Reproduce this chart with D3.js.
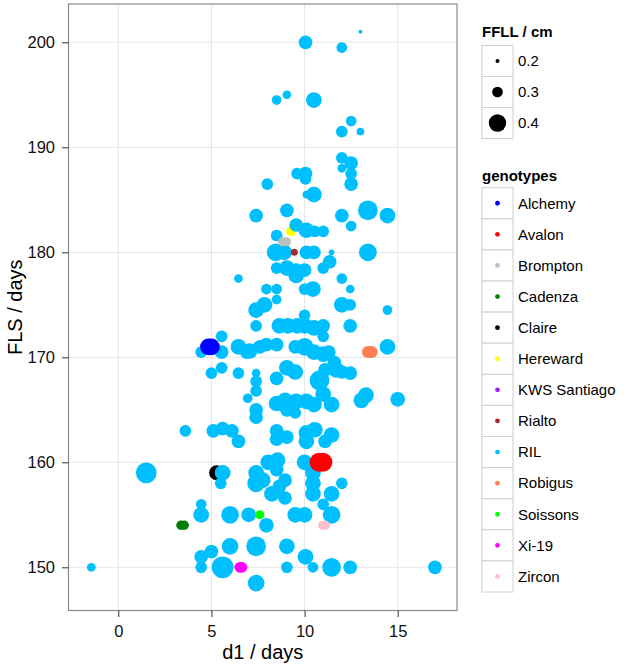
<!DOCTYPE html>
<html><head><meta charset="utf-8">
<script src="https://cdn.jsdelivr.net/npm/d3@7"></script>
<style>
body{margin:0;background:#fff}
svg{display:block}
text{font-family:"Liberation Sans",Arial,sans-serif}
</style>
</head><body><svg id="chart" width="638" height="669"></svg>
<script>
// ---------- data ----------
const genotypes = ["Alchemy","Avalon","Brompton","Cadenza","Claire","Hereward","KWS Santiago","Rialto","RIL","Robigus","Soissons","Xi-19","Zircon"];
const genotypeColors = ["#0000FF","#FF0000","#BEBEBE","#008000","#000000","#FFFF00","#A020F0","#A52A2A","#00BFFF","#FF7F50","#00FF00","#FF00FF","#FFC0CB"];
const sizeBreaks = [0.2, 0.3, 0.4];
const xTicks = [0, 5, 10, 15];
const yTicks = [150, 160, 170, 180, 190, 200];

// RIL lines
const rilD1 = [13.0,10.05,12.0,8.5,9.05,10.5,12.5,12.0,13.0,12.0,12.5,12.0,12.5,12.5,8.0,9.6,10.05,10.05,10.5,10.1,
 7.4,9.05,13.4,14.45,12.0,12.5,9.55,10.1,10.55,11.0,8.5,8.45,8.9,10.1,10.5,11.45,13.4,11.35,11.0,8.5,
 9.05,9.55,10.0,9.55,6.45,12.0,12.45,10.45,10.0,7.95,8.5,8.5,7.4,7.85,12.0,12.45,14.45,7.4,8.65,9.1,
 9.6,10.0,10.0,10.5,11.0,12.45,11.0,14.45,6.45,7.05,7.6,7.95,8.5,9.5,10.0,10.5,11.0,11.3,4.45,5.55,
 5.55,6.9,5.0,5.55,6.45,7.4,7.4,7.4,6.95,7.4,7.4,8.5,9.05,9.5,8.5,8.95,9.55,10.1,10.5,9.05,
 9.5,11.45,10.8,11.1,11.7,12.45,13.05,13.3,15.0,8.5,8.5,9.05,10.1,10.55,10.1,11.45,11.1,3.6,5.1,5.6,
 6.1,6.45,5.6,5.5,1.5,10.0,8.05,8.55,7.4,7.75,7.4,8.5,8.95,8.65,8.25,8.95,10.45,10.45,10.45,11.45,
 12.0,11.0,11.45,9.5,10.0,7.95,7.0,4.45,4.45,6.0,4.45,5.0,6.0,7.4,9.05,10.05,10.45,4.45,5.6,9.05,
 11.45,12.45,17.0,7.4,-1.45,12.0,11.6,11.0];
const rilFLS = [201,200,199.5,194.5,195,194.5,192.5,191.5,191.5,189,188.5,188,187.5,186.5,186.5,187.5,187.5,187,185.5,185.5,
 183.5,184,184,183.5,183.5,182.5,182.6,182.1,182,182,181.6,180,180,180,180,180,180,179.1,178.5,178.5,
 178.5,178.2,178.3,177.8,177.5,177.5,176.5,176.5,176.5,176.5,176.5,175.5,174.5,175,175,175,174.5,173,173,173,
 173,174,173,172.8,173,173,172,171,171,170.6,171,171.2,171.2,171,171,170.5,170.3,170.5,170.5,172,
 170.5,170.5,168.5,169,168.5,168.5,167.7,166.8,166.1,165,164.3,168,169,168.6,165.6,165.9,165.8,165.8,165.5,165,
 164.7,165.5,167.8,168.8,168.8,168.5,165.9,166.4,166,163,162.2,162.4,162.8,163.1,162,162.6,162,163,163,163.2,
 163,162,159,158,159,160,160,160.2,159,158.3,158,159.3,158.3,157.7,157,156.6,159,158,157,157,
 158,156,155,155,155,154,155,156,155,155,151,151.5,152,152,152,151,150,150,150,150,
 150,150,150,148.5,150,168.6,169.5,166.5];
const rilFFLL = [0.2,0.345,0.3,0.285,0.27,0.375,0.3,0.315,0.255,0.315,0.345,0.27,0.315,0.345,0.315,0.315,0.345,0.315,0.375,0.255,
 0.345,0.345,0.435,0.375,0.345,0.3,0.345,0.375,0.315,0.315,0.315,0.405,0.375,0.345,0.345,0.225,0.405,0.345,0.315,0.315,
 0.375,0.375,0.345,0.375,0.27,0.3,0.27,0.375,0.315,0.3,0.3,0.285,0.375,0.375,0.375,0.315,0.285,0.315,0.375,0.375,
 0.375,0.315,0.375,0.375,0.345,0.345,0.315,0.375,0.375,0.375,0.345,0.345,0.345,0.345,0.405,0.375,0.375,0.345,0.315,0.315,
 0.345,0.345,0.315,0.315,0.315,0.27,0.315,0.315,0.285,0.345,0.345,0.345,0.375,0.375,0.375,0.375,0.375,0.375,0.375,0.345,
 0.315,0.375,0.435,0.345,0.375,0.345,0.375,0.375,0.36,0.345,0.345,0.345,0.375,0.375,0.375,0.375,0.345,0.315,0.345,0.345,
 0.345,0.345,0.375,0.315,0.45,0.375,0.375,0.375,0.375,0.375,0.405,0.345,0.345,0.345,0.375,0.345,0.375,0.375,0.375,0.375,
 0.315,0.315,0.405,0.375,0.375,0.36,0.36,0.3,0.375,0.405,0.345,0.345,0.39,0.435,0.375,0.375,0.3,0.315,0.465,0.315,
 0.42,0.345,0.345,0.39,0.27,0.345,0.345,0.375];

// named parent varieties (first three are drawn beneath the RIL points)
const parentGenotype = ["Claire","Hereward","KWS Santiago",
 "Alchemy","Alchemy","Avalon","Avalon","Brompton","Brompton","Cadenza","Cadenza","Rialto",
 "Robigus","Robigus","Soissons","Xi-19","Xi-19","Zircon","Zircon"];
const parentD1 = [5.28,9.28,9.65, 4.84,5.0,10.78,10.98,8.82,9.03,3.36,3.54,9.45, 13.4,13.6,7.6,6.52,6.64,10.97,11.13];
const parentFLS = [159,182,171, 171,171,160,160,181,181,154,154,180, 170.5,170.5,155,150,150,154,154];
const parentFFLL = [0.365,0.29,0.25, 0.39,0.39,0.424,0.424,0.275,0.275,0.28,0.28,0.245, 0.32,0.32,0.275,0.30,0.30,0.275,0.275];
const underCount = 3;

// ---------- layout ----------
const svg = d3.select("#chart");
const P = {left: 68.5, right: 457, top: 4, bottom: 610.5};
const x = d3.scaleLinear().domain([(68.5-118.3)/18.627, (457-118.3)/18.627]).range([P.left, P.right]);
const y = d3.scaleLinear().domain([200 - (610.5-42.3)/10.5, 200 + (42.3-4)/10.5]).range([P.bottom, P.top]);
const r = d3.scaleLinear().domain([0.2, 0.4]).range([2, 8.7]);
const color = d3.scaleOrdinal().domain(genotypes).range(genotypeColors);

// grid
const grid = svg.append("g");
grid.selectAll(".gx").data(xTicks).join("line")
  .attr("x1", d => x(d)).attr("x2", d => x(d)).attr("y1", P.top).attr("y2", P.bottom)
  .attr("stroke", "#e6e6e6").attr("stroke-width", 1);
grid.selectAll(".gy").data(yTicks).join("line")
  .attr("y1", d => y(d)).attr("y2", d => y(d)).attr("x1", P.left).attr("x2", P.right)
  .attr("stroke", "#e6e6e6").attr("stroke-width", 1);

// points
const points = [];
parentGenotype.forEach((g, i) => { if (i < underCount) points.push({d: parentD1[i], f: parentFLS[i], s: parentFFLL[i], g}); });
rilD1.forEach((d, i) => points.push({d, f: rilFLS[i], s: rilFFLL[i], g: "RIL"}));
parentGenotype.forEach((g, i) => { if (i >= underCount) points.push({d: parentD1[i], f: parentFLS[i], s: parentFFLL[i], g}); });

svg.append("g").selectAll("circle").data(points).join("circle")
  .attr("cx", p => x(p.d)).attr("cy", p => y(p.f)).attr("r", p => r(p.s))
  .attr("fill", p => color(p.g));

// panel border
svg.append("rect").attr("x", P.left).attr("y", P.top)
  .attr("width", P.right - P.left).attr("height", P.bottom - P.top)
  .attr("fill", "none").attr("stroke", "#8a8a8a").attr("stroke-width", 1.2);

// axes
const xAxis = d3.axisBottom(x).tickValues(xTicks).tickSize(6.5).tickPadding(8).tickFormat(d3.format("d"));
const gx = svg.append("g").attr("transform", `translate(0,${P.bottom})`).call(xAxis);
gx.select(".domain").remove();
gx.selectAll(".tick line").attr("stroke", "#333");
gx.selectAll("text").attr("font-size", 16.5).attr("fill", "#111").attr("font-family", '"Liberation Sans",Arial,sans-serif');

const yAxis = d3.axisLeft(y).tickValues(yTicks).tickSize(6.5).tickPadding(7).tickFormat(d3.format("d"));
const gy = svg.append("g").attr("transform", `translate(${P.left},0)`).call(yAxis);
gy.select(".domain").remove();
gy.selectAll(".tick line").attr("stroke", "#333");
gy.selectAll("text").attr("font-size", 16.5).attr("fill", "#111").attr("font-family", '"Liberation Sans",Arial,sans-serif');

svg.append("text").attr("x", (P.left + P.right) / 2).attr("y", 659)
  .attr("text-anchor", "middle").attr("font-size", 20).attr("fill", "#000").text("d1 / days");
svg.append("text").attr("transform", `translate(22,${(P.top + P.bottom) / 2}) rotate(-90)`)
  .attr("text-anchor", "middle").attr("font-size", 20).attr("fill", "#000").text("FLS / days");

// legends
const LX = 482, KW = 31;
const leg1 = svg.append("g");
leg1.append("text").attr("x", LX).attr("y", 37).attr("font-size", 15).attr("font-weight", "bold").text("FFLL / cm");
sizeBreaks.forEach((b, i) => {
  const top = 45.5 + i * KW;
  leg1.append("rect").attr("x", LX).attr("y", top).attr("width", KW).attr("height", KW)
    .attr("fill", "#fff").attr("stroke", "#d0d0d0");
  leg1.append("circle").attr("cx", LX + KW / 2).attr("cy", top + KW / 2).attr("r", r(b)).attr("fill", "#000");
  leg1.append("text").attr("x", LX + KW + 5).attr("y", top + KW / 2).attr("dy", "0.35em")
    .attr("font-size", 15).text(b.toFixed(1));
});

const leg2 = svg.append("g");
leg2.append("text").attr("x", LX).attr("y", 180.5).attr("font-size", 15).attr("font-weight", "bold").text("genotypes");
const GH = 31.1;
genotypes.forEach((g, i) => {
  const top = 187.7 + i * GH;
  leg2.append("rect").attr("x", LX).attr("y", top).attr("width", KW).attr("height", GH)
    .attr("fill", "#fff").attr("stroke", "#d0d0d0");
  leg2.append("circle").attr("cx", LX + KW / 2).attr("cy", top + GH / 2).attr("r", 2.4).attr("fill", color(g));
  leg2.append("text").attr("x", LX + KW + 5).attr("y", top + GH / 2).attr("dy", "0.35em")
    .attr("font-size", 15).text(g);
});
</script>
</body></html>
